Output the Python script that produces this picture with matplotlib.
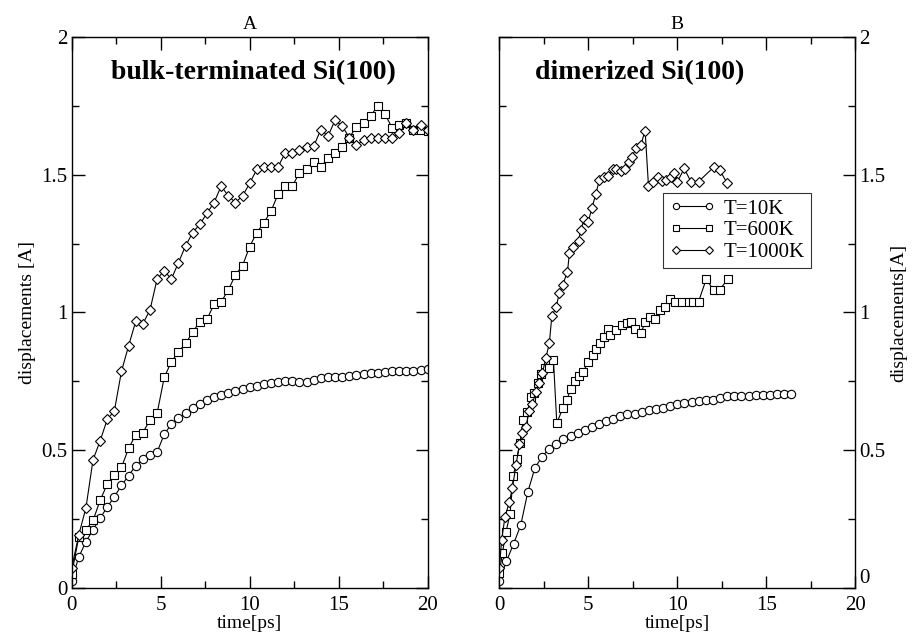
import matplotlib
matplotlib.use("Agg")
import matplotlib.pyplot as plt
from matplotlib.ticker import MultipleLocator

plt.rcParams.update({
    'font.family': 'Liberation Serif',
    'font.size': 12,
    'axes.linewidth': 1.0,
})

# ---- panel A: bulk-terminated Si(100) ----
t_a = [0.0, 0.4, 0.8, 1.2, 1.6, 2.0, 2.4, 2.8, 3.2, 3.6, 4.0, 4.4, 4.8, 5.2, 5.6,
       6.0, 6.4, 6.8, 7.2, 7.6, 8.0, 8.4, 8.8, 9.2, 9.6, 10.0, 10.4, 10.8, 11.2,
       11.6, 12.0, 12.4, 12.8, 13.2, 13.6, 14.0, 14.4, 14.8, 15.2, 15.6, 16.0,
       16.4, 16.8, 17.2, 17.6, 18.0, 18.4, 18.8, 19.2, 19.6, 20.0]
a_10k = [0.027, 0.112, 0.168, 0.211, 0.254, 0.293, 0.332, 0.372, 0.408, 0.444,
         0.467, 0.483, 0.493, 0.558, 0.594, 0.616, 0.634, 0.652, 0.668, 0.682,
         0.692, 0.700, 0.709, 0.716, 0.722, 0.728, 0.733, 0.739, 0.745, 0.749,
         0.750, 0.750, 0.749, 0.748, 0.755, 0.761, 0.764, 0.764, 0.767, 0.769,
         0.772, 0.775, 0.779, 0.781, 0.785, 0.787, 0.789, 0.789, 0.787, 0.791, 0.795]
a_600k = [0.050, 0.185, 0.211, 0.245, 0.318, 0.377, 0.411, 0.438, 0.507, 0.556,
          0.564, 0.610, 0.634, 0.764, 0.821, 0.857, 0.888, 0.928, 0.967, 0.975,
          1.030, 1.038, 1.082, 1.136, 1.170, 1.239, 1.290, 1.326, 1.368, 1.430,
          1.459, 1.459, 1.507, 1.519, 1.547, 1.529, 1.559, 1.580, 1.599, 1.635,
          1.674, 1.686, 1.713, 1.751, 1.720, 1.671, 1.682, 1.688, 1.662, 1.662, 1.659]
a_1000k = [0.072, 0.193, 0.290, 0.465, 0.534, 0.612, 0.643, 0.787, 0.879, 0.968,
           0.959, 1.009, 1.121, 1.152, 1.121, 1.181, 1.242, 1.290, 1.320, 1.360,
           1.399, 1.459, 1.423, 1.399, 1.423, 1.469, 1.519, 1.527, 1.529, 1.529,
           1.580, 1.580, 1.589, 1.601, 1.604, 1.664, 1.640, 1.698, 1.676, 1.635,
           1.607, 1.626, 1.632, 1.632, 1.632, 1.632, 1.650, 1.686, 1.664, 1.680, 1.662]

# ---- panel B: dimerized Si(100) ----
t_b10 = [0.0, 0.4, 0.8, 1.2, 1.6, 2.0, 2.4, 2.8, 3.2, 3.6, 4.0, 4.4, 4.8, 5.2,
         5.6, 6.0, 6.4, 6.8, 7.2, 7.6, 8.0, 8.4, 8.8, 9.2, 9.6, 10.0, 10.4, 10.8,
         11.2, 11.6, 12.0, 12.4, 12.8, 13.2, 13.6, 14.0, 14.4, 14.8, 15.2, 15.6,
         16.0, 16.4]
b_10k = [0.024, 0.097, 0.160, 0.227, 0.348, 0.436, 0.476, 0.506, 0.522, 0.539,
         0.551, 0.563, 0.573, 0.585, 0.595, 0.607, 0.615, 0.625, 0.631, 0.633,
         0.640, 0.646, 0.649, 0.654, 0.660, 0.666, 0.670, 0.676, 0.680, 0.682,
         0.682, 0.688, 0.697, 0.698, 0.698, 0.698, 0.700, 0.700, 0.701, 0.703,
         0.704, 0.704]

t_b600 = [0.0, 0.17, 0.38, 0.6, 0.79, 0.98, 1.16, 1.35, 1.58, 1.78, 1.97, 2.16,
          2.35, 2.57, 2.81, 3.04, 3.23, 3.56, 3.79, 4.0, 4.26, 4.5, 4.72, 5.0,
          5.25, 5.44, 5.66, 5.9, 6.1, 6.19, 6.56, 6.88, 7.17, 7.39, 7.63, 7.95,
          8.19, 8.44, 8.76, 9.04, 9.32, 9.6, 9.88, 10.26, 10.63, 10.9, 11.19,
          11.62, 12.04, 12.37, 12.82]
b_600k = [0.053, 0.126, 0.204, 0.269, 0.408, 0.468, 0.525, 0.610, 0.640, 0.694,
          0.707, 0.743, 0.777, 0.797, 0.800, 0.828, 0.598, 0.652, 0.682, 0.721,
          0.752, 0.770, 0.785, 0.822, 0.846, 0.866, 0.888, 0.910, 0.939, 0.918,
          0.936, 0.955, 0.961, 0.967, 0.939, 0.924, 0.964, 0.985, 0.975, 1.009,
          1.021, 1.048, 1.039, 1.039, 1.039, 1.039, 1.039, 1.120, 1.082, 1.082, 1.120]

t_b1000 = [0.0, 0.13, 0.32, 0.56, 0.73, 0.94, 1.13, 1.3, 1.48, 1.69, 1.86, 2.05,
           2.25, 2.42, 2.61, 2.81, 2.95, 3.19, 3.37, 3.56, 3.83, 3.94, 4.13, 4.45,
           4.58, 4.76, 5.0, 5.2, 5.42, 5.62, 5.89, 6.13, 6.38, 6.56, 6.83, 7.07,
           7.26, 7.45, 7.69, 7.95, 8.19, 8.38, 8.66, 8.89, 9.13, 9.38, 9.64, 9.83,
           10.01, 10.39, 10.76, 11.19, 12.04, 12.37, 12.79]
b_1000k = [0.071, 0.174, 0.259, 0.311, 0.362, 0.446, 0.523, 0.561, 0.585, 0.642,
           0.668, 0.713, 0.743, 0.779, 0.834, 0.888, 0.987, 1.019, 1.070, 1.100,
           1.148, 1.217, 1.237, 1.261, 1.300, 1.338, 1.330, 1.378, 1.430, 1.481,
           1.490, 1.495, 1.520, 1.520, 1.515, 1.520, 1.547, 1.566, 1.596, 1.608,
           1.660, 1.459, 1.475, 1.490, 1.478, 1.481, 1.493, 1.505, 1.475, 1.523,
           1.475, 1.475, 1.527, 1.517, 1.471]

labels = ['T=10K', 'T=600K', 'T=1000K']
markers = ['o', 's', 'D']
msizes = [6.0, 5.4, 5.4]


def style_axis(ax, right=False):
    ax.set_xlim(0, 20)
    ax.set_ylim(0, 2)
    ax.xaxis.set_major_locator(MultipleLocator(5))
    ax.xaxis.set_minor_locator(MultipleLocator(2.5))
    ax.yaxis.set_major_locator(MultipleLocator(0.5))
    ax.yaxis.set_minor_locator(MultipleLocator(0.25))
    ax.tick_params(which='both', direction='in', top=True, right=True,
                   left=True, bottom=True, labelsize=15)
    ax.tick_params(which='major', length=9, width=1.0, pad=3)
    ax.tick_params(axis='x', which='major', pad=6)
    ax.tick_params(which='minor', length=5, width=1.0)
    ax.set_yticks([0, 0.5, 1, 1.5, 2])
    ax.set_yticklabels(['0', '0.5', '1', '1.5', '2'])
    ax.set_xlabel('time[ps]', fontsize=14, labelpad=0)
    if right:
        ax.tick_params(labelleft=False, labelright=True)
        ax.yaxis.set_label_position('right')


def draw(ax, t, y, i):
    ax.plot(t, y, color='black', lw=0.8, marker=markers[i], ms=msizes[i],
            mfc='white', mec='black', mew=0.8, label=labels[i])


fig = plt.figure(figsize=(9.14, 6.44), dpi=100)
ax_a = fig.add_axes([0.0784, 0.087, 0.3895, 0.8556])
ax_b = fig.add_axes([0.5463, 0.087, 0.3895, 0.8556])

draw(ax_a, t_a, a_10k, 0)
draw(ax_a, t_a, a_600k, 1)
draw(ax_a, t_a, a_1000k, 2)
style_axis(ax_a)
ax_a.set_ylabel('displacements [A]', fontsize=14, labelpad=4)
ax_a.set_title('A', fontsize=14, pad=6)
ax_a.text(10.24, 1.87, 'bulk-terminated Si(100)', ha='center', va='center',
          fontsize=20, fontweight='bold')

draw(ax_b, t_b10, b_10k, 0)
draw(ax_b, t_b600, b_600k, 1)
draw(ax_b, t_b1000, b_1000k, 2)
style_axis(ax_b, right=True)
ax_b.set_ylabel('displacements[A]', fontsize=14, labelpad=3)
ax_b.set_title('B', fontsize=14, pad=6)
ax_b.text(7.86, 1.87, 'dimerized Si(100)', ha='center', va='center',
          fontsize=20, fontweight='bold')

# the right-hand "0" sits a little above the axis corner, as in the original
fig.canvas.draw()
ax_b.get_yticklabels()[0].set_verticalalignment('bottom')

leg = ax_b.legend(loc='upper left', bbox_to_anchor=(0.46, 0.717), numpoints=2,
                  fontsize=15, frameon=True, fancybox=False, borderpad=0.3,
                  handlelength=2.2, handletextpad=0.4, labelspacing=0.1,
                  borderaxespad=0)
leg.get_frame().set_edgecolor('black')
leg.get_frame().set_linewidth(0.8)
for h in leg.legend_handles:
    h.set_markersize(4.5)

fig.savefig('out.png', dpi=100)
